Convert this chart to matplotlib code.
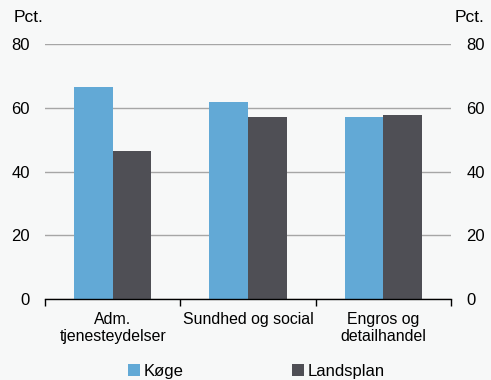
import matplotlib

matplotlib.use("Agg")

import matplotlib.pyplot as plt
import numpy as np

CATEGORIES = ["Adm.\ntjenesteydelser", "Sundhed og social", "Engros og\ndetailhandel"]
KOGE = [66.5, 61.8, 57.0]
LANDSPLAN = [46.4, 57.0, 57.7]
SERIES = ["Køge", "Landsplan"]

BLUE = "#62a9d6"
DARK = "#4f4f55"
BG = "#f7f8f8"

plt.rcParams.update({
    "font.family": ["Liberation Sans", "DejaVu Sans"],
    "font.size": 12,
})

fig = plt.figure(figsize=(4.91, 3.80), dpi=100, facecolor=BG)
ax = fig.add_axes([0.0917, 0.213, 0.8268, 0.671], facecolor=BG)

x = np.arange(len(CATEGORIES))
w = 0.285
ax.bar(x - w / 2, KOGE, w, color=BLUE, label=SERIES[0], zorder=3)
ax.bar(x + w / 2, LANDSPLAN, w, color=DARK, label=SERIES[1], zorder=3)

ax.set_xlim(-0.5, len(CATEGORIES) - 0.5)
ax.set_ylim(0, 80)
ax.set_yticks([0, 20, 40, 60, 80])
ax.grid(axis="y", color="#a6a6a6", linewidth=1.0, zorder=0)
for s in ["top", "left", "right"]:
    ax.spines[s].set_visible(False)
ax.spines["bottom"].set_color("black")
ax.spines["bottom"].set_linewidth(1.0)
ax.spines["bottom"].set_zorder(4)

ax.set_xticks(np.arange(-0.5, len(CATEGORIES), 1.0))
ax.set_xticklabels([])
ax.set_xticks(x, minor=True)
ax.set_xticklabels(CATEGORIES, minor=True, fontsize=11.4, linespacing=1.2)
ax.tick_params(axis="x", which="major", length=5, width=1.0, color="black", direction="out")
ax.tick_params(axis="x", which="minor", length=0, pad=9)
ax.tick_params(axis="y", length=0, pad=11, labelsize=12)

ax2 = ax.twinx()
ax2.set_ylim(ax.get_ylim())
ax2.set_yticks([0, 20, 40, 60, 80])
ax2.tick_params(axis="y", length=0, pad=11, labelsize=12)
for s in ax2.spines.values():
    s.set_visible(False)

fig.text(14 / 491, 1 - 18 / 380, "Pct.", fontsize=12.5, ha="left", va="center")
fig.text(455 / 491, 1 - 18 / 380, "Pct.", fontsize=12.5, ha="left", va="center")

fig.legend(loc="lower center", bbox_to_anchor=(0.522, -0.037), ncol=2, frameon=False,
           fontsize=12, handlelength=0.7, handleheight=0.7, handletextpad=0.2,
           columnspacing=6.56)

fig.savefig("out.png", dpi=100, facecolor=BG)
